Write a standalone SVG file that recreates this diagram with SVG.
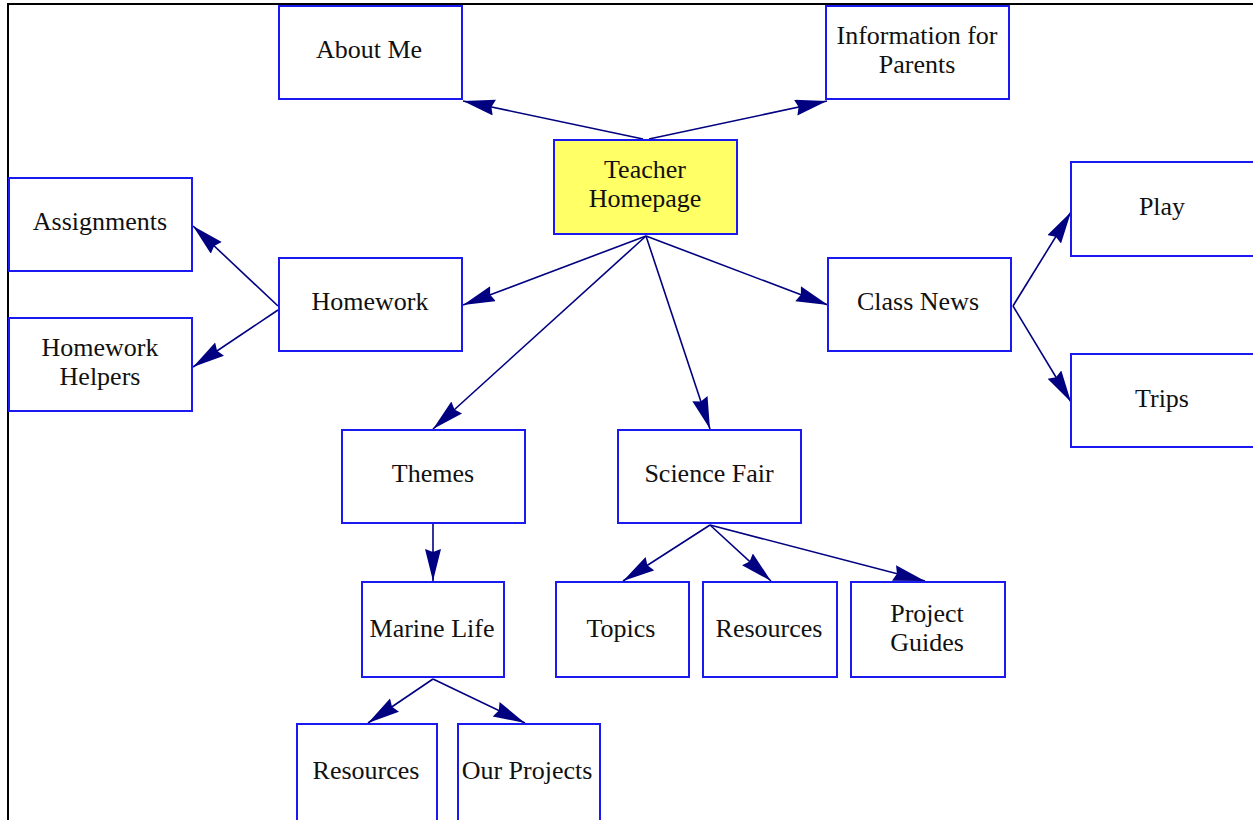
<svg xmlns="http://www.w3.org/2000/svg" width="1253" height="820" viewBox="0 0 1253 820">
<style>
.box{fill:#ffffff;stroke:#1a1af0;stroke-width:2}
.root{fill:#ffff66}
.lbl{font-family:"Liberation Serif","Times New Roman",serif;font-size:26px;fill:#111;text-anchor:middle}
.edge{stroke:#000080;stroke-width:1.6;fill:none;marker-end:url(#ah)}
</style>
<defs>
<marker id="ah" markerUnits="userSpaceOnUse" markerWidth="34" markerHeight="18" refX="32" refY="8" orient="auto">
<path d="M0,0 L3,8 L0,16 L32,8 z" fill="#000080"/>
</marker>
</defs>
<rect x="0" y="0" width="1253" height="820" fill="#ffffff"/>
<path d="M8,820 V4 H1253" fill="none" stroke="#000" stroke-width="2"/>
<g id="connectors">
<line class="edge" x1="643" y1="139" x2="463" y2="101"/>
<line class="edge" x1="649" y1="139" x2="827" y2="101"/>
<line class="edge" x1="646" y1="236" x2="463" y2="305"/>
<line class="edge" x1="646" y1="236" x2="433" y2="429"/>
<line class="edge" x1="646" y1="236" x2="710" y2="429"/>
<line class="edge" x1="646" y1="236" x2="828" y2="305"/>
<line class="edge" x1="278" y1="306" x2="193" y2="226"/>
<line class="edge" x1="278" y1="310" x2="193" y2="367"/>
<line class="edge" x1="1013" y1="306" x2="1071" y2="212"/>
<line class="edge" x1="1013" y1="306" x2="1071" y2="402"/>
<line class="edge" x1="433" y1="524" x2="433" y2="581"/>
<line class="edge" x1="710" y1="525" x2="623" y2="581"/>
<line class="edge" x1="710" y1="525" x2="771" y2="581"/>
<line class="edge" x1="710" y1="525" x2="925" y2="581"/>
<line class="edge" x1="433" y1="679" x2="368" y2="723"/>
<line class="edge" x1="433" y1="679" x2="525" y2="723"/>
</g>
<g id="about-me"><rect class="box" x="279" y="6" width="183" height="93"/><text class="lbl" x="369" y="58">About Me</text></g>
<g id="info-parents"><rect class="box" x="826" y="6" width="183" height="93"/><text class="lbl" x="917" y="44">Information for</text><text class="lbl" x="917" y="73">Parents</text></g>
<g id="teacher-homepage"><rect class="box root" x="554" y="140" width="183" height="94"/><text class="lbl" x="645" y="178">Teacher</text><text class="lbl" x="645" y="207">Homepage</text></g>
<g id="assignments"><rect class="box" x="9" y="178" width="183" height="93"/><text class="lbl" x="100" y="230">Assignments</text></g>
<g id="homework"><rect class="box" x="279" y="258" width="183" height="93"/><text class="lbl" x="370" y="310">Homework</text></g>
<g id="homework-helpers"><rect class="box" x="9" y="318" width="183" height="93"/><text class="lbl" x="100" y="356">Homework</text><text class="lbl" x="100" y="385">Helpers</text></g>
<g id="class-news"><rect class="box" x="828" y="258" width="183" height="93"/><text class="lbl" x="918" y="310">Class News</text></g>
<g id="play"><rect class="box" x="1071" y="162" width="185" height="94"/><text class="lbl" x="1162" y="215">Play</text></g>
<g id="trips"><rect class="box" x="1071" y="354" width="185" height="93"/><text class="lbl" x="1162" y="407">Trips</text></g>
<g id="themes"><rect class="box" x="342" y="430" width="183" height="93"/><text class="lbl" x="433" y="482">Themes</text></g>
<g id="science-fair"><rect class="box" x="618" y="430" width="183" height="93"/><text class="lbl" x="709" y="482">Science Fair</text></g>
<g id="marine-life"><rect class="box" x="362" y="582" width="142" height="95"/><text class="lbl" x="432" y="637">Marine Life</text></g>
<g id="topics"><rect class="box" x="556" y="582" width="133" height="95"/><text class="lbl" x="621" y="637">Topics</text></g>
<g id="sf-resources"><rect class="box" x="703" y="582" width="134" height="95"/><text class="lbl" x="769" y="637">Resources</text></g>
<g id="project-guides"><rect class="box" x="851" y="582" width="154" height="95"/><text class="lbl" x="927" y="622">Project</text><text class="lbl" x="927" y="651">Guides</text></g>
<g id="ml-resources"><rect class="box" x="297" y="724" width="140" height="100"/><text class="lbl" x="366" y="779">Resources</text></g>
<g id="our-projects"><rect class="box" x="458" y="724" width="142" height="100"/><text class="lbl" x="527" y="779">Our Projects</text></g>
</svg>
